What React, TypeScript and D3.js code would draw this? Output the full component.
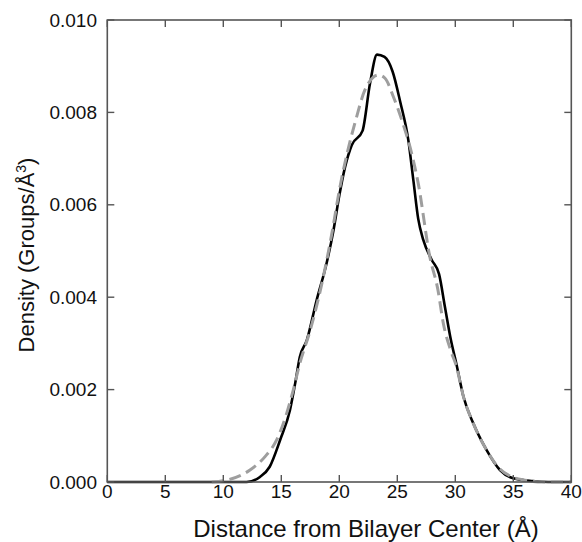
import React from "react";
import * as d3 from "d3";

const blackX = [0, 5, 10, 12, 13.16, 14, 14.9, 15.75, 16.2, 16.6, 17.2, 18.05, 18.9, 19.5, 20.0, 20.5, 21.07, 22.0, 22.65, 23.25, 23.9, 24.6, 25.25, 25.95, 26.4, 26.8, 27.24, 27.96, 28.6, 29.1, 29.6, 30.1, 30.7, 31.55, 32.7, 33.85, 35.0, 36.7, 38, 40];
const blackY = [0, 0, 0, 0, 0.11, 0.33, 0.91, 1.56, 2.14, 2.71, 3.07, 3.94, 4.73, 5.45, 6.2, 6.82, 7.29, 7.6, 8.63, 9.25, 9.2, 8.88, 8.23, 7.4, 6.5, 5.7, 5.24, 4.81, 4.5, 3.8, 3.1, 2.55, 1.85, 1.27, 0.69, 0.26, 0.08, 0.02, 0, 0];

const grayX = [9, 10.6, 12.3, 13.6, 14.6, 15.47, 16.03, 16.6, 17.5, 18.5, 19.3, 20.06, 21.5, 22.2, 23.36, 23.94, 24.66, 25.38, 26.24, 26.8, 27.8, 28.5, 28.97, 29.6, 30.1, 30.7, 31.55, 32.7, 33.85, 35, 36, 37.5, 40];
const grayY = [0, 0.06, 0.26, 0.55, 0.91, 1.49, 1.99, 2.57, 3.29, 4.3, 5.3, 6.39, 7.91, 8.48, 8.81, 8.74, 8.34, 7.84, 7.11, 6.47, 4.88, 4.16, 3.43, 2.85, 2.5, 1.85, 1.27, 0.69, 0.28, 0.1, 0.04, 0, 0];

const xTicks = [0, 5, 10, 15, 20, 25, 30, 35, 40];
const yTicks = [0, 0.002, 0.004, 0.006, 0.008, 0.01];

const W = 582, H = 542;
const L = 107.3, R = 571.3, T = 20, B = 482;
const FONT = "'Liberation Sans', Arial, Helvetica, sans-serif";

export default function App() {
  const x = d3.scaleLinear().domain([0, 40]).range([L, R]);
  const y = d3.scaleLinear().domain([0, 0.01]).range([B, T]);
  const line = d3
    .line<[number, number]>()
    .x((d) => x(d[0]))
    .y((d) => y(d[1] / 1000))
    .curve(d3.curveMonotoneX);
  const blackPts: [number, number][] = blackX.map((v, i) => [v, blackY[i]]);
  const grayPts: [number, number][] = grayX.map((v, i) => [v, grayY[i]]);
  const axisColor = "#555";
  const tl = 7;
  return (
    <svg width={W} height={H} style={{ position: "absolute", left: 0, top: 0, background: "#fff" }}>
      <rect x={0} y={0} width={W} height={H} fill="#fff" />
      <path d={line(blackPts) || ""} fill="none" stroke="#000" strokeWidth={2.6} strokeLinejoin="round" />
      <path d={line(grayPts) || ""} fill="none" stroke="#9e9e9e" strokeWidth={3} strokeDasharray="12,6" />
      <rect x={L} y={T} width={R - L} height={B - T} fill="none" stroke={axisColor} strokeWidth={1.6} />
      {xTicks.map((t) => (
        <g key={"x" + t}>
          <line x1={x(t)} x2={x(t)} y1={B} y2={B - tl} stroke={axisColor} strokeWidth={1.4} />
          <line x1={x(t)} x2={x(t)} y1={T} y2={T + tl} stroke={axisColor} strokeWidth={1.4} />
          <text x={x(t)} y={498} textAnchor="middle" fontFamily={FONT} fontSize={19} fill="#111">
            {t}
          </text>
        </g>
      ))}
      {yTicks.map((t) => (
        <g key={"y" + t}>
          <line x1={L} x2={L + tl} y1={y(t)} y2={y(t)} stroke={axisColor} strokeWidth={1.4} />
          <line x1={R} x2={R - tl} y1={y(t)} y2={y(t)} stroke={axisColor} strokeWidth={1.4} />
          <text x={97} y={y(t)} dy="0.35em" textAnchor="end" fontFamily={FONT} fontSize={19} fill="#111">
            {t.toFixed(3)}
          </text>
        </g>
      ))}
      <text x={366} y={537} textAnchor="middle" fontFamily={FONT} fontSize={24} fill="#111">
        Distance from Bilayer Center (Å)
      </text>
      <text
        transform={`translate(34, 255) rotate(-90)`}
        textAnchor="middle"
        fontFamily={FONT}
        fontSize={22}
        fill="#111"
      >
        Density (Groups/Å<tspan dy="-8" fontSize={14}>3</tspan><tspan dy="8">)</tspan>
      </text>
    </svg>
  );
}
